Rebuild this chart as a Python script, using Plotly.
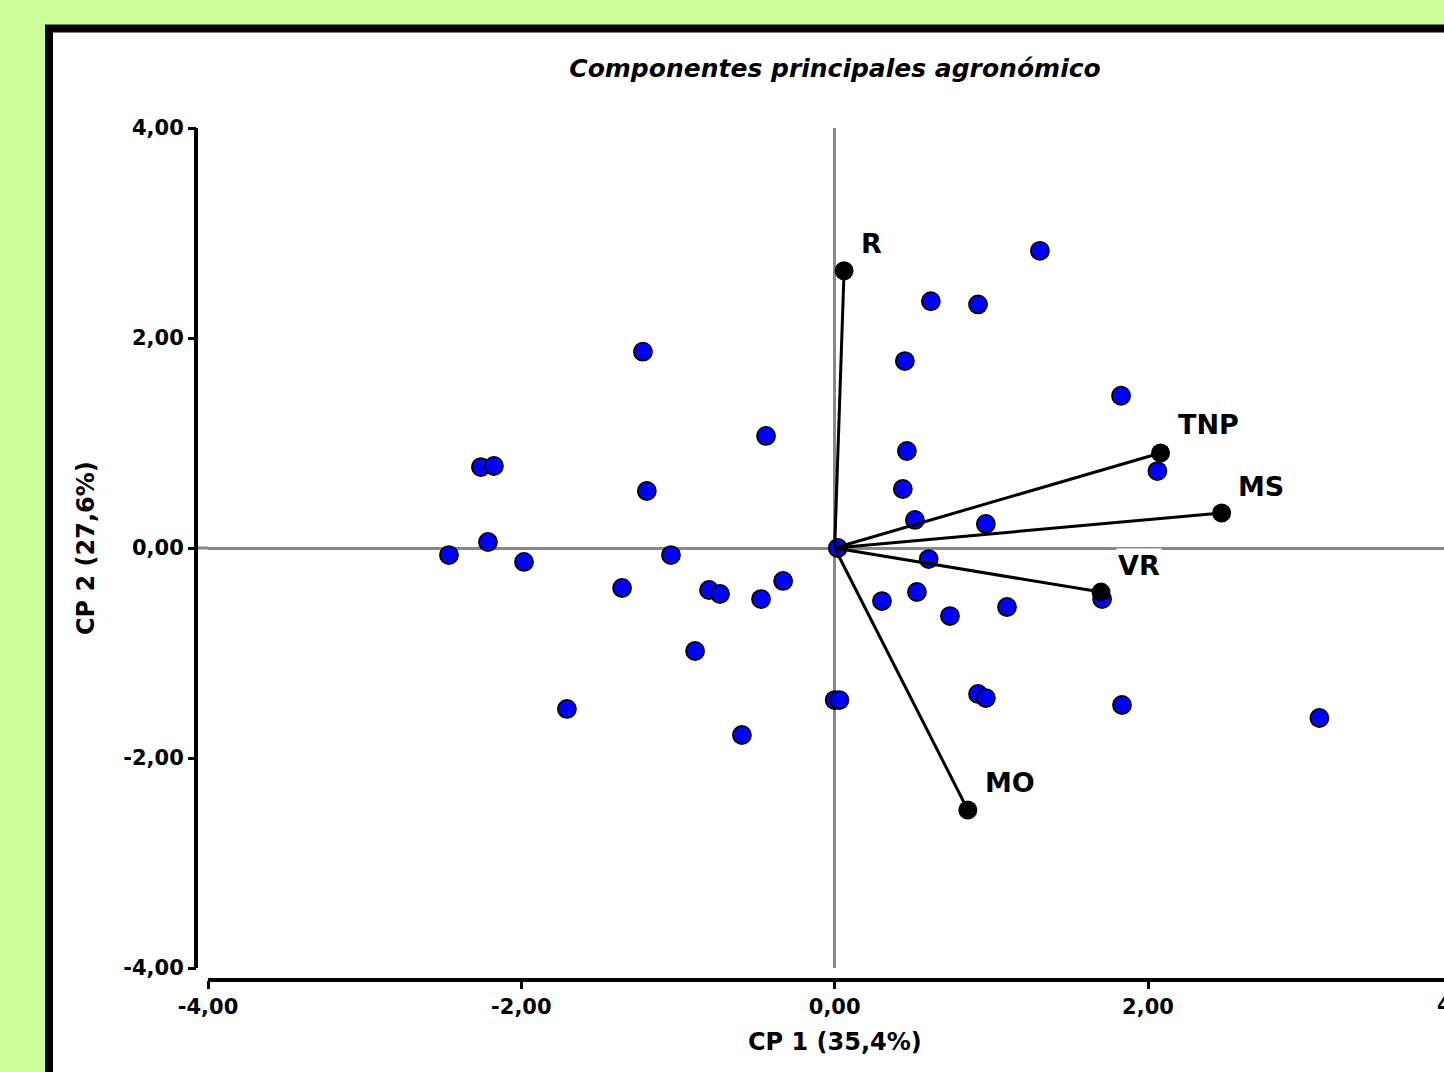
import plotly.graph_objects as go

# Observation scores (CP1, CP2)
obs_x = [1.31, 0.614, 0.915, 0.448, -1.224, 1.828, -0.438, 0.461, 2.06, -2.258, -2.175,
         -1.199, 0.435, 0.512, 0.965, -2.213, -2.462, -1.983, -1.045, 0.02, 0.60,
         -1.357, -0.802, -0.732, -0.47, -0.329, 0.302, 0.525, 0.736, 1.10, 1.707,
         -0.891, -1.709, 0.0, 0.03, -0.592, 0.915, 0.965, 1.834, 3.094]
obs_y = [2.83, 2.35, 2.32, 1.78, 1.87, 1.45, 1.067, 0.924, 0.733, 0.771, 0.781,
         0.543, 0.562, 0.267, 0.229, 0.057, -0.067, -0.133, -0.067, 0.0, -0.105,
         -0.381, -0.40, -0.438, -0.486, -0.314, -0.505, -0.419, -0.648, -0.562, -0.486,
         -0.981, -1.533, -1.448, -1.448, -1.781, -1.39, -1.429, -1.495, -1.619]

# Variable loadings (vectors)
var_names = ["R", "TNP", "MS", "VR", "MO"]
var_x = [0.06, 2.08, 2.47, 1.70, 0.85]
var_y = [2.64, 0.905, 0.333, -0.42, -2.495]

x_ticks = [-4, -2, 0, 2]
x_tick_labels = ["-4,00", "-2,00", "0,00", "2,00"]
y_ticks = [-4, -2, 0, 2, 4]
y_tick_labels = ["-4,00", "-2,00", "0,00", "2,00", "4,00"]

W, H = 1444, 1072
FONT = "DejaVu Sans, Verdana, sans-serif"
BG = "#CCFF99"

fig = go.Figure()

fig.add_trace(go.Scatter(
    x=obs_x, y=obs_y, mode="markers",
    marker=dict(size=18, color="#0000FF", line=dict(color="black", width=1.8)),
    cliponaxis=False, showlegend=False, hoverinfo="x+y"))

for nm, vx, vy in zip(var_names, var_x, var_y):
    fig.add_trace(go.Scatter(
        x=[0, vx], y=[0, vy], mode="lines",
        line=dict(color="black", width=3), showlegend=False, hoverinfo="skip"))

fig.add_trace(go.Scatter(
    x=var_x, y=var_y, mode="markers",
    marker=dict(size=19, color="black"),
    cliponaxis=False, showlegend=False, text=var_names, hoverinfo="text"))

# label offsets in pixels
offs = {"R": (27, 27), "TNP": (48, 28), "MS": (39, 27), "VR": (38, 27), "MO": (42, 27)}
for nm, vx, vy in zip(var_names, var_x, var_y):
    dx, dy = offs[nm]
    fig.add_annotation(x=vx, y=vy, xref="x", yref="y", text="<b>%s</b>" % nm,
                       showarrow=False, xshift=dx, yshift=dy,
                       font=dict(family=FONT, size=27, color="black"),
                       bgcolor="white" if nm == "VR" else None)

# frame
fig.add_shape(type="rect", xref="paper", yref="paper",
              x0=49 / W, x1=1.1, y0=-0.1, y1=1 - 28.5 / H,
              line=dict(color="black", width=8), fillcolor="white", layer="below")

# partial '4,00' tick label at right edge
fig.add_annotation(xref="paper", yref="paper", x=1435 / W, y=1 - 1005 / H,
                   xanchor="left", yanchor="middle", showarrow=False,
                   text="<b>4,00</b>", font=dict(family=FONT, size=21, color="black"))

# axis titles
fig.add_annotation(xref="paper", yref="paper", x=835 / W, y=1 - 1042 / H,
                   xanchor="center", yanchor="middle", showarrow=False,
                   text="<b>CP 1 (35,4%)</b>", font=dict(family=FONT, size=24, color="black"))
fig.add_annotation(xref="paper", yref="paper", x=86 / W, y=1 - 548 / H,
                   xanchor="center", yanchor="middle", showarrow=False, textangle=-90,
                   text="<b>CP 2 (27,6%)</b>", font=dict(family=FONT, size=24, color="black"))

x0_px, x1_px = 208, 1444
unit_x = (1148 - 208) / 6.0
xr1 = -4 + (x1_px - x0_px) / unit_x

tickfont = dict(family=FONT, size=21, color="black", weight="bold")

fig.update_layout(
    width=W, height=H,
    margin=dict(l=0, r=0, t=0, b=0, pad=0, autoexpand=False),
    paper_bgcolor=BG,
    plot_bgcolor="rgba(0,0,0,0)",
    title=dict(text="<b><i>Componentes principales agronómico</i></b>",
               x=835 / W, xanchor="center", y=1 - 68 / H, yanchor="middle",
               automargin=False,
               font=dict(family=FONT, size=25, color="black")),
    xaxis=dict(
        domain=[x0_px / W, 1], range=[-4, xr1], automargin=False,
        anchor="free", position=1 - 980 / H,
        tickvals=x_ticks, ticktext=x_tick_labels,
        ticks="outside", ticklen=8, tickwidth=3, tickcolor="black",
        showline=False, showgrid=False,
        zeroline=True, zerolinecolor="#888888", zerolinewidth=3,
        tickfont=tickfont,
    ),
    yaxis=dict(
        domain=[1 - 968 / H, 1 - 128 / H], range=[-4, 4], automargin=False,
        anchor="free", position=196 / W,
        tickvals=y_ticks, ticktext=y_tick_labels,
        ticks="outside", ticklen=8, tickwidth=3, tickcolor="black",
        showline=False, showgrid=False,
        zeroline=True, zerolinecolor="#888888", zerolinewidth=3,
        tickfont=tickfont,
    ),
)

# axis lines (offset axes spanning the tick range)
fig.add_shape(type="line", xref="x", yref="paper", x0=-4, x1=xr1 + 0.2,
              y0=1 - 980 / H, y1=1 - 980 / H, line=dict(color="black", width=4))
fig.add_shape(type="line", xref="paper", yref="y", x0=196 / W, x1=196 / W,
              y0=-4, y1=4, line=dict(color="black", width=4))
fig.add_shape(type="line", xref="paper", yref="y", x0=196 / W, x1=208 / W,
              y0=0, y1=0, line=dict(color="#888888", width=3), layer="below")

post = ("document.documentElement.style.margin='0';document.body.style.margin='0';"
        "document.body.style.overflow='hidden';document.body.style.background='%s';" % BG)
fig.write_html("out.html", post_script=post, config={"displayModeBar": False})
